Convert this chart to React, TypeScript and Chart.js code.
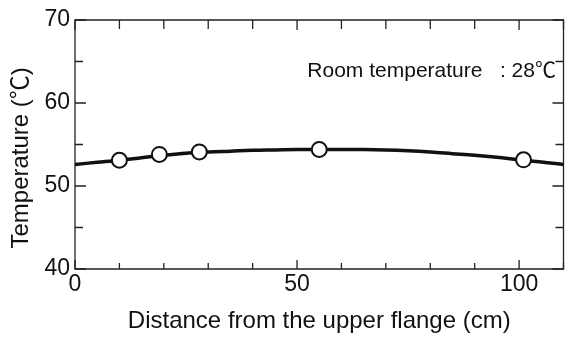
import React, { useEffect, useRef } from "react";
import { Chart, registerables } from "chart.js";

Chart.register(...registerables);

// Smooth fitted curve
const curveX = [0, 5, 10, 15, 20, 25, 30, 35, 40, 45, 50, 55, 60, 65, 70, 75, 80, 85, 90, 95, 100, 105, 110];
const curveY = [52.6, 52.85, 53.1, 53.4, 53.7, 53.95, 54.1, 54.2, 54.3, 54.35, 54.4, 54.4, 54.4, 54.4, 54.35, 54.25, 54.1, 53.9, 53.7, 53.45, 53.15, 52.9, 52.6];

// Measured points
const pointX = [10, 19, 28, 55, 101];
const pointY = [53.1, 53.8, 54.1, 54.4, 53.15];

const xTitle = "Distance from the upper flange (cm)";
const yTitle = "Temperature (℃)    ";
const annotationText = "Room temperature   : 28℃";

const FONT = "'Liberation Sans', Arial, 'Noto Sans CJK JP', sans-serif";

const frameTicksPlugin = {
  id: "frameTicks",
  beforeDatasetsDraw(chart: any) {
    const { ctx, chartArea } = chart;
    const { left, right, top, bottom } = chartArea;
    const xs = chart.scales.x;
    const ys = chart.scales.y;
    ctx.save();
    ctx.strokeStyle = "#222";
    ctx.lineWidth = 1.3;
    ctx.beginPath();
    ctx.rect(left, top, right - left, bottom - top);
    ctx.stroke();
    ctx.beginPath();
    xs.ticks.forEach((t: any) => {
      const px = xs.getPixelForValue(t.value);
      const major = t.value % 50 === 0;
      const lb = major ? 9 : 6;
      const lt = major ? 10 : 9;
      ctx.moveTo(px, bottom);
      ctx.lineTo(px, bottom - lb);
      ctx.moveTo(px, top);
      ctx.lineTo(px, top + lt);
    });
    ys.ticks.forEach((t: any) => {
      const py = ys.getPixelForValue(t.value);
      const major = t.value % 10 === 0;
      const l = major ? 11 : 8;
      ctx.moveTo(left, py);
      ctx.lineTo(left + l, py);
      ctx.moveTo(right, py);
      ctx.lineTo(right - l, py);
    });
    ctx.stroke();
    ctx.restore();
  },
  afterDraw(chart: any) {
    const { ctx } = chart;
    const xs = chart.scales.x;
    const ys = chart.scales.y;
    ctx.save();
    ctx.fillStyle = "#111";
    ctx.font = `21px ${FONT}`;
    ctx.textAlign = "right";
    ctx.textBaseline = "middle";
    ctx.fillText(annotationText, xs.getPixelForValue(108.3), ys.getPixelForValue(63.8));
    ctx.restore();
  },
};

export default function App() {
  const ref = useRef<HTMLCanvasElement | null>(null);
  useEffect(() => {
    if (!ref.current) return;
    const chart = new Chart(ref.current, {
      type: "line",
      data: {
        datasets: [
          {
            label: "Measured",
            data: pointX.map((x, i) => ({ x, y: pointY[i] })),
            showLine: false,
            pointRadius: 7.5,
            pointBorderWidth: 2,
            pointBackgroundColor: "#fff",
            pointBorderColor: "#111",
            order: 0,
          },
          {
            label: "Curve",
            data: curveX.map((x, i) => ({ x, y: curveY[i] })),
            borderColor: "#111",
            borderWidth: 3.5,
            pointRadius: 0,
            tension: 0.4,
            fill: false,
            order: 1,
          },
        ],
      },
      options: {
        responsive: false,
        animation: false,
        layout: { padding: { top: 20, right: 0, left: 0, bottom: 0 } },
        plugins: { legend: { display: false }, tooltip: { enabled: false } },
        scales: {
          x: {
            type: "linear",
            min: 0,
            max: 110,
            grid: { display: false, drawTicks: false },
            border: { display: false },
            ticks: {
              stepSize: 10,
              autoSkip: false,
              maxRotation: 0,
              padding: 2,
              color: "#111",
              font: { family: FONT, size: 23 },
              callback: (v: any) => (Number(v) % 50 === 0 ? String(v) : ""),
            },
            title: {
              display: true,
              text: xTitle,
              color: "#111",
              font: { family: FONT, size: 24 },
              padding: { top: 0, bottom: 4 },
            },
            afterFit: (s: any) => {
              s.height = 71;
            },
          },
          y: {
            type: "linear",
            min: 40,
            max: 70,
            grid: { display: false, drawTicks: false },
            border: { display: false },
            ticks: {
              stepSize: 5,
              autoSkip: false,
              padding: 5,
              color: "#111",
              font: { family: FONT, size: 23 },
              callback: (v: any) => (Number(v) % 10 === 0 ? String(v) : ""),
            },
            title: {
              display: true,
              text: yTitle,
              color: "#111",
              font: { family: FONT, size: 24 },
              padding: { top: 7, bottom: 0 },
            },
            afterFit: (s: any) => {
              s.width = 75;
            },
          },
        },
      },
      plugins: [frameTicksPlugin],
    });
    return () => chart.destroy();
  }, []);
  return (
    <div style={{ position: "fixed", left: 0, top: 0, width: 573, height: 340 }}>
      <canvas ref={ref} width={573} height={340} style={{ display: "block" }} />
    </div>
  );
}
